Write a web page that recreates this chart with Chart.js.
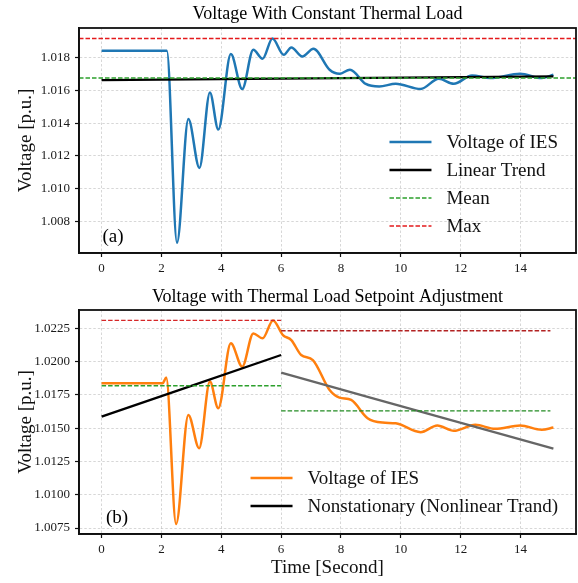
<!DOCTYPE html>
<html><head><meta charset="utf-8">
<script src="https://cdn.jsdelivr.net/npm/chart.js@4.4.1/dist/chart.umd.min.js"></script>
<style>
html,body{margin:0;padding:0;background:#fff;}
#wrap{position:relative;width:578px;height:583px;overflow:hidden;}
.c{position:absolute;left:0;width:578px;}
</style></head><body>
<div id="wrap">
<div class="c" style="top:0;height:283px"><canvas id="ca"></canvas></div>
<div class="c" style="top:283px;height:300px"><canvas id="cb"></canvas></div>
</div>
<script>
// ---------- data ----------
const titleA = "Voltage With Constant Thermal Load";
const titleB = "Voltage with Thermal Load Setpoint Adjustment";
const xTicks = [0, 2, 4, 6, 8, 10, 12, 14];
const yTicksA = [1.008, 1.010, 1.012, 1.014, 1.016, 1.018];
const yTicksB = [1.0075, 1.0100, 1.0125, 1.0150, 1.0175, 1.0200, 1.0225];

const timeA = [0, 2.18, 2.52, 2.90, 3.27, 3.62, 3.90, 4.32, 4.70, 5.07, 5.38, 5.71, 6.09, 6.34, 6.71, 7.08, 7.62, 7.95, 8.30, 8.83, 9.28, 9.83, 10.66, 11.27, 11.77, 12.38, 12.99, 13.99, 14.71, 15.10];
const voltA = [1.01843, 1.01843, 1.00670, 1.01426, 1.01127, 1.01588, 1.01361, 1.01823, 1.01609, 1.01849, 1.01794, 1.01918, 1.01818, 1.01863, 1.01808, 1.01855, 1.01727, 1.01702, 1.01727, 1.01640, 1.01625, 1.01641, 1.01609, 1.01672, 1.01641, 1.01692, 1.01676, 1.01702, 1.01676, 1.01696];
const trendTimeA = [0, 15.10];
const trendA = [1.01664, 1.01686];
const meanA = 1.01676;
const maxA = 1.01918;

const timeB = [0, 2.04, 2.16, 2.49, 2.90, 3.26, 3.62, 3.90, 4.32, 4.70, 5.07, 5.38, 5.73, 6.06, 6.34, 6.67, 7.06, 7.62, 7.95, 8.34, 8.89, 9.39, 9.83, 10.66, 11.22, 11.77, 12.49, 13.15, 13.99, 14.71, 15.10];
const voltB = [1.01838, 1.01838, 1.01880, 1.00780, 1.01600, 1.01350, 1.01850, 1.01650, 1.02138, 1.01962, 1.02212, 1.02175, 1.02310, 1.02200, 1.02162, 1.02050, 1.02012, 1.01787, 1.01730, 1.01712, 1.01575, 1.01542, 1.01537, 1.01470, 1.01520, 1.01480, 1.01525, 1.01495, 1.01520, 1.01488, 1.01505];
const segTimeB1 = [0, 6.0];
const segTimeB2 = [6.0, 15.0];
const trendB1 = [1.01587, 1.02050];
const trendTimeB2 = [6.0, 15.10];
const trendB2 = [1.01917, 1.01347];
const meanB = [1.01819, 1.01630];
const maxB = [1.02310, 1.02232];

// axis limits
const xMin = -0.755, xMax = 15.855;
const yMinA = 1.00607, yMaxA = 1.01982;
const yMinB = 1.00705, yMaxB = 1.02388;

// ---------- helpers ----------
const FONT = "'Liberation Serif','Times New Roman',serif";
const pts = (xs, ys) => xs.map((x, i) => ({x, y: ys[i]}));
const hline = (x0, x1, y) => [{x: x0, y}, {x: x1, y}];

function line(label, data, color, width, dash, order, legend) {
  return {
    label, data, borderColor: color, backgroundColor: color, borderWidth: width,
    borderDash: dash || [], pointRadius: 0, pointHoverRadius: 0, fill: false,
    cubicInterpolationMode: 'monotone', order, legend: legend !== false,
    borderCapStyle: 'butt', borderJoinStyle: 'round'
  };
}

const overlay = {
  id: 'overlay',
  afterDraw(chart, args, o) {
    const {ctx, chartArea: a} = chart;
    ctx.save();
    ctx.setLineDash([]);
    ctx.strokeStyle = '#111'; ctx.lineWidth = 1.8;
    ctx.strokeRect(a.left, a.top, a.right - a.left, a.bottom - a.top);
    ctx.fillStyle = '#000';
    ctx.textAlign = 'center'; ctx.textBaseline = 'middle';
    ctx.font = '18px ' + FONT;
    ctx.fillText(o.title, (a.left + a.right) / 2, o.titleY);
    ctx.font = '19px ' + FONT;
    ctx.fillText(o.tag, a.left + o.tagDX, a.bottom - o.tagDY);
    // legend (lower right)
    const items = chart.data.datasets.filter(d => d.legend);
    ctx.font = '19px ' + FONT;
    const maxW = Math.max(...items.map(d => ctx.measureText(d.label).width));
    const textX = a.right - 18 - maxW;
    const hEnd = textX - 15, hStart = hEnd - 42;
    const n = items.length;
    items.forEach((d, i) => {
      const y = a.bottom - o.legBottom - (n - 1 - i) * o.legStep;
      ctx.strokeStyle = d.borderColor; ctx.lineWidth = d.borderWidth;
      ctx.setLineDash(d.borderDash || []);
      ctx.beginPath(); ctx.moveTo(hStart, y); ctx.lineTo(hEnd, y); ctx.stroke();
      ctx.setLineDash([]);
      ctx.textAlign = 'left'; ctx.fillStyle = '#111';
      ctx.fillText(d.label, textX, y + 1);
    });
    ctx.restore();
  }
};

function opts(yMin, yMax, yTicks, dec, xHeight, xTitle, ov, topPad) {
  const gridCommon = {color: 'rgba(0,0,0,0.2)', lineWidth: 0.8, tickLength: 4, tickColor: '#111', tickWidth: 1.2, tickBorderDash: []};
  const borderCommon = {display: true, color: '#111', width: 1.8, dash: [2.5, 2]};
  return {
    responsive: true, maintainAspectRatio: false, animation: false,
    layout: {padding: {top: topPad, left: 0, right: 2, bottom: 0}},
    plugins: {legend: {display: false}, tooltip: {enabled: false}, title: {display: false}, overlay: ov},
    scales: {
      x: {
        type: 'linear', min: xMin, max: xMax,
        afterBuildTicks: s => { s.ticks = xTicks.map(v => ({value: v})); },
        afterFit: s => { s.height = xHeight; },
        ticks: {font: {family: FONT, size: 13}, color: '#1a1a1a', padding: 4, maxRotation: 0, callback: v => String(v)},
        grid: gridCommon, border: borderCommon,
        title: xTitle ? {display: true, text: xTitle, font: {family: FONT, size: 19}, color: '#111', padding: {top: 0, bottom: 4}} : {display: false}
      },
      y: {
        type: 'linear', min: yMin, max: yMax,
        afterBuildTicks: s => { s.ticks = yTicks.map(v => ({value: v})); },
        afterFit: s => { s.width = 79; },
        ticks: {font: {family: FONT, size: 13}, color: '#1a1a1a', padding: 5, callback: v => Number(v).toFixed(dec)},
        grid: gridCommon, border: borderCommon,
        title: {display: true, text: 'Voltage [p.u.]', font: {family: FONT, size: 19}, color: '#111', padding: {top: 15, bottom: 0}}
      }
    }
  };
}

new Chart(document.getElementById('ca'), {
  type: 'line',
  data: {datasets: [
    line('Voltage of IES', pts(timeA, voltA), '#1f77b4', 2.5, null, 4),
    line('Linear Trend', pts(trendTimeA, trendA), '#000000', 2.3, null, 3),
    line('Mean', hline(xMin, xMax, meanA), '#2ca02c', 1.4, [4.5, 2], 2),
    line('Max', hline(xMin, xMax, maxA), '#e41a1c', 1.4, [4.5, 2], 1)
  ]},
  options: opts(yMinA, yMaxA, yTicksA, 3, 30, null,
    {title: titleA, titleY: 14, tag: '(a)', tagDX: 34, tagDY: 16, legBottom: 27, legStep: 28}, 28),
  plugins: [overlay]
});

new Chart(document.getElementById('cb'), {
  type: 'line',
  data: {datasets: [
    line('Voltage of IES', pts(timeB, voltB), '#ff7f0e', 2.5, null, 6),
    line('Nonstationary (Nonlinear Trand)', pts(segTimeB1, trendB1), '#000000', 2.3, null, 5),
    line('Trend 2', pts(trendTimeB2, trendB2), '#666666', 2.3, null, 5, false),
    line('Mean 1', pts(segTimeB1, [meanB[0], meanB[0]]), '#2ca02c', 1.4, [4.5, 2], 3, false),
    line('Mean 2', pts(segTimeB2, [meanB[1], meanB[1]]), '#228b22', 1.4, [4.5, 2], 3, false),
    line('Max 1', pts(segTimeB1, [maxB[0], maxB[0]]), '#d62728', 1.4, [4.5, 2], 2, false),
    line('Max 2', pts(segTimeB2, [maxB[1], maxB[1]]), '#b22222', 1.4, [4.5, 2], 2, false)
  ]},
  options: opts(yMinB, yMaxB, yTicksB, 4, 49, 'Time [Second]',
    {title: titleB, titleY: 14, tag: '(b)', tagDX: 38, tagDY: 16, legBottom: 28, legStep: 28}, 27),
  plugins: [overlay]
});
</script>
</body></html>
